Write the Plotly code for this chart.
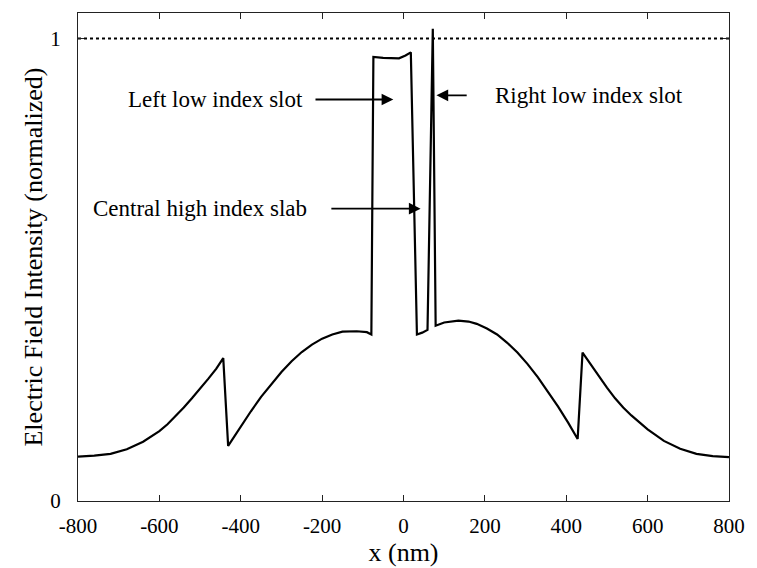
import plotly.graph_objects as go

# Field profile
x_nm = [-800, -760, -720, -680, -640, -620, -600, -580, -560, -540, -520, -500, -480, -460, -443,
        -431, -415, -400, -375, -350, -325, -300, -275, -250, -225, -200, -175, -150, -115, -90, -79,
        -74, -50, -25, -11, 5, 18,
        33, 46, 59,
        72, 79,
        100, 135, 160, 180, 205, 230, 255, 280, 305, 330, 355, 380, 405, 428,
        440, 460, 480, 500, 520, 540, 560, 580, 600, 640, 680, 720, 760, 800]
intensity = [0.096, 0.098, 0.102, 0.112, 0.128, 0.139, 0.151, 0.166, 0.183, 0.202, 0.222, 0.242, 0.264, 0.286, 0.309,
             0.119, 0.141, 0.162, 0.194, 0.225, 0.253, 0.279, 0.302, 0.322, 0.338, 0.351, 0.360, 0.366, 0.367, 0.365, 0.360,
             0.960, 0.958, 0.957, 0.957, 0.963, 0.970,
             0.360, 0.364, 0.370,
             1.021, 0.379,
             0.386, 0.390, 0.388, 0.383, 0.373, 0.360, 0.342, 0.321, 0.296, 0.268, 0.237, 0.204, 0.169, 0.134,
             0.321, 0.295, 0.270, 0.245, 0.222, 0.202, 0.185, 0.169, 0.155, 0.130, 0.113, 0.102, 0.097, 0.095]

ref_x = [-800, 800]
ref_y = [1, 1]

x_ticks = [-800, -600, -400, -200, 0, 200, 400, 600, 800]
x_ticklabels = ["-800", "-600", "-400", "-200", "0", "200", "400", "600", "800"]
y_ticks = [0, 1]
y_ticklabels = ["0", "1"]

labels = ["Left low index slot", "Central high index slab", "Right low index slot"]
label_pos = [(-241, 0.868, "right"), (-232, 0.632, "right"), (220, 0.877, "left")]
arrow_tail = [(-220, 0.868), (-181, 0.632), (159, 0.877)]
arrow_head = [(-25, 0.868), (42, 0.632), (81, 0.877)]

FONT = "Liberation Serif"

fig = go.Figure()
fig.add_trace(go.Scatter(x=ref_x, y=ref_y, mode="lines",
                         line=dict(color="black", width=2, dash="dot"),
                         hoverinfo="skip", showlegend=False))
fig.add_trace(go.Scatter(x=x_nm, y=intensity, mode="lines",
                         line=dict(color="black", width=2.2),
                         showlegend=False))

for text, (tx, ty, anchor) in zip(labels, label_pos):
    fig.add_annotation(x=tx, y=ty, xref="x", yref="y", text=text, showarrow=False,
                       xanchor=anchor, yanchor="middle",
                       font=dict(family=FONT, size=23, color="black"))

for (ax_, ay_), (hx, hy) in zip(arrow_tail, arrow_head):
    fig.add_annotation(x=hx, y=hy, ax=ax_, ay=ay_, xref="x", yref="y",
                       axref="x", ayref="y", text="", showarrow=True,
                       arrowhead=2, arrowsize=1.3, arrowwidth=1.8,
                       arrowcolor="black", standoff=0, startstandoff=0)

axis_common = dict(showgrid=False, zeroline=False, showline=True, linecolor="#222",
                   linewidth=1, mirror="ticks", ticks="inside", ticklen=6,
                   tickcolor="#222", tickfont=dict(family=FONT, size=21, color="black"))

fig.update_xaxes(range=[-800, 800], tickvals=x_ticks, ticktext=x_ticklabels,
                 ticklabelstandoff=6,
                 title=dict(text="x (nm)", font=dict(family=FONT, size=26, color="black"),
                            standoff=0),
                 **axis_common)
fig.update_yaxes(range=[0, 1.055], tickvals=y_ticks, ticktext=y_ticklabels,
                 ticklabelstandoff=12,
                 title=dict(text="Electric Field Intensity (normalized)",
                            font=dict(family=FONT, size=26, color="black"), standoff=0),
                 **axis_common)

fig.update_layout(width=757, height=568, margin=dict(l=78, r=20, t=12, b=60),
                  plot_bgcolor="white", paper_bgcolor="white")

fig.write_html("out.html")
